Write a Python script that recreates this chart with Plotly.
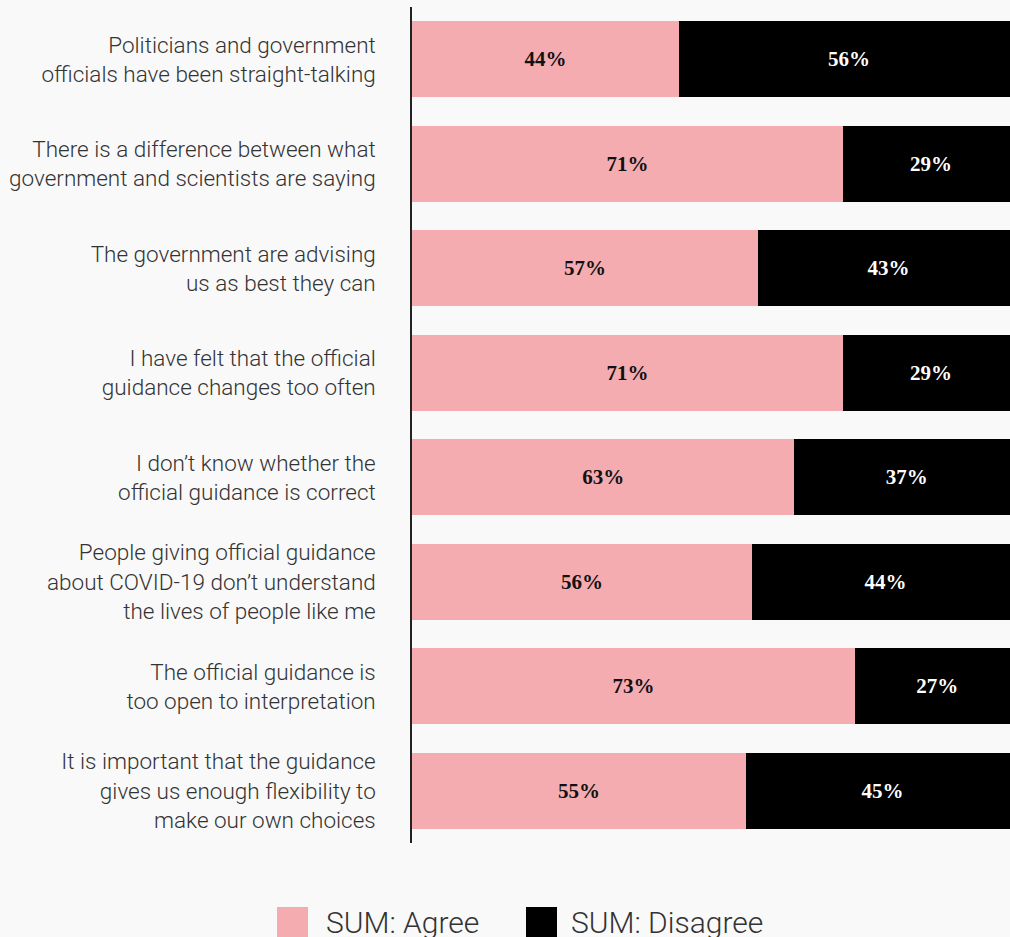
import plotly.graph_objects as go

# Survey statements, top to bottom
statements = [
    "Politicians and government<br>officials have been straight-talking",
    "There is a difference between what<br>government and scientists are saying",
    "The government are advising<br>us as best they can",
    "I have felt that the official<br>guidance changes too often",
    "I don’t know whether the<br>official guidance is correct",
    "People giving official guidance<br>about COVID-19 don’t understand<br>the lives of people like me",
    "The official guidance is<br>too open to interpretation",
    "It is important that the guidance<br>gives us enough flexibility to<br>make our own choices",
]
agree = [44, 71, 57, 71, 63, 56, 73, 55]
disagree = [56, 29, 43, 29, 37, 44, 27, 45]
series_names = ["SUM: Agree", "SUM: Disagree"]

PINK = "#f5acb0"
BLACK = "#000000"
BG = "#f9f9f9"
TEXT = "#333333"

W, H = 1010, 937
ML, MR, MT, MB = 412, 0, 7, 94
PW, PH = W - ML - MR, H - MT - MB

fig = go.Figure()
fig.add_trace(go.Bar(
    y=statements, x=agree, orientation="h", name=series_names[0],
    marker=dict(color=PINK, line=dict(width=0)),
    text=[f"{v}%" for v in agree], textposition="inside",
    insidetextanchor="middle", textangle=0,
    textfont=dict(family="Liberation Serif", size=21, color="#111111", weight="bold"),
    showlegend=False,
))
fig.add_trace(go.Bar(
    y=statements, x=disagree, orientation="h", name=series_names[1],
    marker=dict(color=BLACK, line=dict(width=0)),
    text=[f"{v}%" for v in disagree], textposition="inside",
    insidetextanchor="middle", textangle=0,
    textfont=dict(family="Liberation Serif", size=21, color="#ffffff", weight="bold"),
    showlegend=False,
))


def px_x(p):
    return (p - ML) / PW


def px_y(p):
    return (H - MB - p) / PH


# Legend drawn as large swatches with labels beneath the plot
legend_items = [(series_names[0], PINK, 277, 324), (series_names[1], BLACK, 526, 569)]
shapes = []
annotations = []
for name, color, sx, tx in legend_items:
    shapes.append(dict(type="rect", xref="paper", yref="paper",
                       x0=px_x(sx), x1=px_x(sx + 31), y0=px_y(907), y1=px_y(938),
                       fillcolor=color, line=dict(width=0), layer="above"))
    annotations.append(dict(xref="paper", yref="paper", x=px_x(tx), y=px_y(922),
                            text=name, showarrow=False, xanchor="left", yanchor="middle",
                            font=dict(family="Roboto", size=30, color=TEXT, weight=300)))

fig.update_layout(
    barmode="stack",
    bargap=0.27,
    width=W, height=H,
    margin=dict(l=ML, r=MR, t=MT, b=MB, pad=0),
    paper_bgcolor=BG, plot_bgcolor=BG,
    shapes=shapes, annotations=annotations,
    showlegend=False,
    uniformtext=dict(mode=False),
)
fig.update_xaxes(range=[0, 98.5], visible=False, showgrid=False, zeroline=False)
fig.update_yaxes(
    autorange="reversed", showline=True, linecolor="#222222", linewidth=1.5,
    showgrid=False, zeroline=False, ticks="", ticklabelstandoff=30,
    tickfont=dict(family="Roboto", size=22.5, color=TEXT, weight=300),
)

fig.write_html("out.html")
